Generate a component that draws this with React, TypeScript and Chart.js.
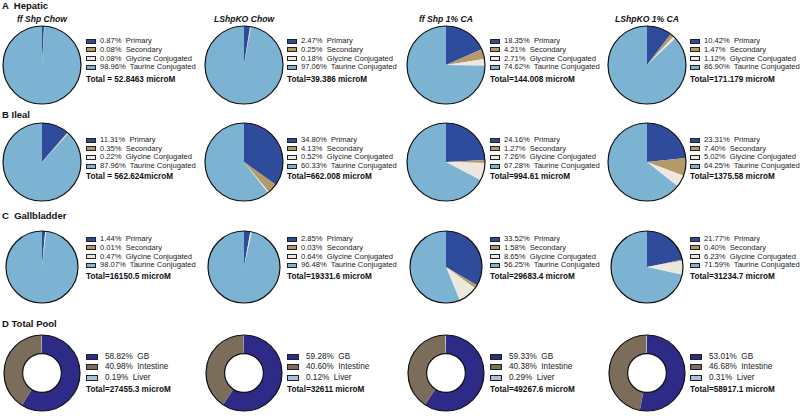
import React, { useEffect, useRef } from 'react';
import { Chart, registerables } from 'chart.js';

Chart.register(...registerables);

const FONT = '"Liberation Sans", Arial, Helvetica, sans-serif';

// ---------- data ----------
const sectionLetters = ['A', 'B', 'C', 'D'];
const sectionNames = ['Hepatic', 'Ileal', 'Gallbladder', 'Total Pool'];
const groupTitles = ['ff Shp Chow', 'LShpKO Chow', 'ff Shp 1% CA', 'LShpKO 1% CA'];

const bileClasses = ['Primary', 'Secondary', 'Glycine Conjugated', 'Taurine Conjugated'];
const bileColors = ['#2f4c9c', '#b49a6b', '#ece8df', '#7db3d2'];

const poolParts = ['GB', 'Intestine', 'Liver'];
const poolColors = ['#2d2a88', '#7c6d5b', '#a9bfe0'];

const hepaticPct = [
  [0.87, 0.08, 0.08, 98.96],
  [2.47, 0.25, 0.18, 97.06],
  [18.35, 4.21, 2.71, 74.62],
  [10.42, 1.47, 1.12, 86.9],
];
const hepaticTotals = ['Total = 52.8463 microM', 'Total=39.386 microM', 'Total=144.008 microM', 'Total=171.179 microM'];

const ilealPct = [
  [11.31, 0.35, 0.22, 87.96],
  [34.8, 4.13, 0.52, 60.33],
  [24.16, 1.27, 7.26, 67.28],
  [23.31, 7.4, 5.02, 64.25],
];
const ilealTotals = ['Total = 562.624microM', 'Total=662.008 microM', 'Total=994.61 microM', 'Total=1375.58 microM'];

const gallbladderPct = [
  [1.44, 0.01, 0.47, 98.07],
  [2.85, 0.03, 0.64, 96.48],
  [33.52, 1.58, 8.65, 56.25],
  [21.77, 0.4, 6.23, 71.59],
];
const gallbladderTotals = ['Total=16150.5 microM', 'Total=19331.6 microM', 'Total=29683.4 microM', 'Total=31234.7 microM'];

const poolPct = [
  [58.82, 40.98, 0.19],
  [59.28, 40.6, 0.12],
  [59.33, 40.38, 0.29],
  [53.01, 46.68, 0.31],
];
const poolTotals = ['Total=27455.3 microM', 'Total=32611 microM', 'Total=49267.6 microM', 'Total=58917.1 microM'];

// ---------- layout ----------
const colPieX = [42, 244, 446, 647];
const colBoxX = [86, 287, 490, 690];
const rowPieY = [65, 162, 267, 373];
const rowRadius = [39, 39, 36, 38];
const rowLegendY = [41, 140, 239, 356.5];
const rowLegendStep = [8.8, 8.7, 8.8, 10.5];
const rowTotalY = [80, 176.5, 276.7, 390];
const rowSectionY = [6, 115, 216, 324];

const outlinePlugin = {
  id: 'outline',
  afterDatasetsDraw(chart: any) {
    const arc: any = chart.getDatasetMeta(0).data[0];
    if (!arc) return;
    const ctx = chart.ctx;
    ctx.save();
    ctx.strokeStyle = '#111';
    ctx.lineWidth = 1.2;
    ctx.beginPath();
    ctx.arc(arc.x, arc.y, arc.outerRadius, 0, Math.PI * 2);
    ctx.stroke();
    if (arc.innerRadius > 0) {
      ctx.beginPath();
      ctx.arc(arc.x, arc.y, arc.innerRadius, 0, Math.PI * 2);
      ctx.stroke();
    }
    ctx.restore();
  },
};

function PieCanvas(props: { values: number[]; labels: string[]; colors: string[]; radius: number; cx: number; cy: number; donut?: boolean }) {
  const { values, labels, colors, radius, cx, cy, donut } = props;
  const ref = useRef<HTMLCanvasElement>(null);
  useEffect(() => {
    if (!ref.current) return;
    const chart = new Chart(ref.current, {
      type: donut ? 'doughnut' : 'pie',
      data: {
        labels,
        datasets: [{ data: values, backgroundColor: colors, borderWidth: 0 }],
      },
      options: {
        responsive: false,
        animation: false,
        cutout: donut ? '51%' : 0,
        layout: { padding: 2 },
        plugins: { legend: { display: false }, tooltip: { enabled: false } },
      } as any,
      plugins: [outlinePlugin],
    });
    return () => chart.destroy();
  }, []);
  const size = 2 * radius + 4;
  return (
    <canvas
      ref={ref}
      width={size}
      height={size}
      style={{ position: 'absolute', left: cx - size / 2, top: cy - size / 2, width: size, height: size }}
    />
  );
}

function Legend(props: { values: number[]; labels: string[]; colors: string[]; x: number; y0: number; step: number; total: string; totalY: number; big?: boolean }) {
  const { values, labels, colors, x, y0, step, total, totalY, big } = props;
  const bw = big ? 12 : 10;
  const bh = big ? 6 : 5;
  const tx = big ? x + 19 : x + 14;
  return (
    <>
      {values.map((v, i) => {
        const y = y0 + i * step;
        return (
          <React.Fragment key={i}>
            <div
              style={{
                position: 'absolute',
                left: x,
                top: y - bh / 2,
                width: bw,
                height: bh,
                background: colors[i],
                border: '1px solid #222',
                boxSizing: 'border-box',
              }}
            />
            <div
              style={{
                position: 'absolute',
                left: tx,
                top: y - 5,
                height: 10,
                lineHeight: '10px',
                fontSize: big ? 8.2 : 7.6,
                color: '#222',
                whiteSpace: 'pre',
              }}
            >
              {v.toFixed(2) + '%  ' + labels[i]}
            </div>
          </React.Fragment>
        );
      })}
      <div
        style={{
          position: 'absolute',
          left: x,
          top: totalY - 5,
          lineHeight: '10px',
          fontSize: 8.2,
          fontWeight: 'bold',
          color: '#111',
          whiteSpace: 'pre',
        }}
      >
        {total}
      </div>
    </>
  );
}

export default function App() {
  const bileRows = [
    { pct: hepaticPct, totals: hepaticTotals },
    { pct: ilealPct, totals: ilealTotals },
    { pct: gallbladderPct, totals: gallbladderTotals },
  ];
  return (
    <div
      style={{
        position: 'absolute',
        left: 0,
        top: 0,
        width: 800,
        height: 416,
        background: '#fff',
        overflow: 'hidden',
        fontFamily: FONT,
      }}
    >
      {sectionLetters.map((l, r) => (
        <div
          key={'s' + r}
          style={{
            position: 'absolute',
            left: 2,
            top: rowSectionY[r] - 6,
            lineHeight: '12px',
            fontSize: 9.5,
            fontWeight: 'bold',
            color: '#111',
            whiteSpace: 'pre',
          }}
        >
          {l + (r === 1 || r === 3 ? ' ' : '  ') + sectionNames[r]}
        </div>
      ))}
      {groupTitles.map((t, c) => (
        <div
          key={'t' + c}
          style={{
            position: 'absolute',
            left: colPieX[c] - 60,
            width: 120,
            top: 14,
            lineHeight: '10px',
            textAlign: 'center',
            fontSize: 8.6,
            fontWeight: 'bold',
            fontStyle: 'italic',
            color: '#111',
          }}
        >
          {t}
        </div>
      ))}
      {bileRows.map((row, r) =>
        row.pct.map((vals, c) => (
          <React.Fragment key={'b' + r + '-' + c}>
            <PieCanvas values={vals} labels={bileClasses} colors={bileColors} radius={rowRadius[r]} cx={colPieX[c]} cy={rowPieY[r]} />
            <Legend
              values={vals}
              labels={bileClasses}
              colors={bileColors}
              x={colBoxX[c]}
              y0={rowLegendY[r]}
              step={rowLegendStep[r]}
              total={row.totals[c]}
              totalY={rowTotalY[r]}
            />
          </React.Fragment>
        ))
      )}
      {poolPct.map((vals, c) => (
        <React.Fragment key={'p' + c}>
          <PieCanvas values={vals} labels={poolParts} colors={poolColors} radius={rowRadius[3]} cx={colPieX[c]} cy={rowPieY[3]} donut />
          <Legend
            values={vals}
            labels={poolParts}
            colors={poolColors}
            x={colBoxX[c]}
            y0={rowLegendY[3]}
            step={rowLegendStep[3]}
            total={poolTotals[c]}
            totalY={rowTotalY[3]}
            big
          />
        </React.Fragment>
      ))}
    </div>
  );
}
